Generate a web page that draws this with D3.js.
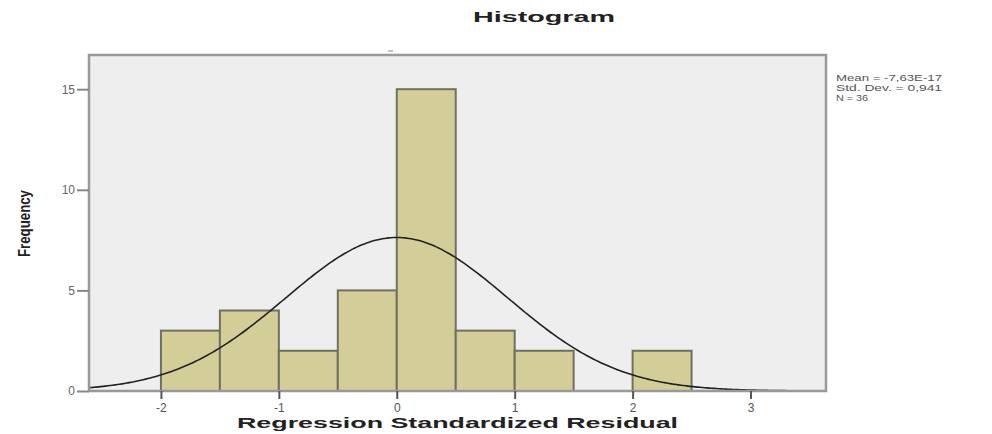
<!DOCTYPE html>
<html><head><meta charset="utf-8">
<script src="https://cdn.jsdelivr.net/npm/d3@7"></script>
<style>body{margin:0;background:#fff;}svg{display:block;font-family:"Liberation Sans",Arial,sans-serif;}</style>
</head><body>
<svg id="c" width="992" height="434"></svg>
<script>
const binStarts = [-2, -1.5, -1, -0.5, 0, 0.5, 1, 1.5, 2];
const binCounts = [3, 4, 2, 5, 15, 3, 2, 0, 2];
const binWidth = 0.5;
const xTicks = [-2, -1, 0, 1, 2, 3];
const yTicks = [0, 5, 10, 15];
const statLines = ["Mean = -7,63E-17", "Std. Dev. = 0,941", "N = 36"];
const meanVal = 0, sdVal = 0.941, nVal = 36;

const svg = d3.select("#c");
const L = 89, R = 826, T = 55, B = 391;
const x = d3.scaleLinear().domain([-2.61, 3.64]).range([L, R]);
const y = d3.scaleLinear().domain([0, 16.7]).range([B, T]);

svg.append("rect").attr("x", L).attr("y", T).attr("width", R - L).attr("height", B - T)
  .attr("fill", "#eeeeee");

svg.append("g").selectAll("rect").data(binStarts.map((s, i) => ({s, c: binCounts[i]})).filter(d => d.c > 0))
  .join("rect")
  .attr("x", d => x(d.s)).attr("width", d => x(d.s + binWidth) - x(d.s))
  .attr("y", d => y(d.c)).attr("height", d => y(0) - y(d.c))
  .attr("fill", "#d3ce98").attr("stroke", "#707060").attr("stroke-width", 2);

// fitted normal curve from the displayed statistics
const xs = d3.range(-2.61, 3.6401, 0.02);
const curve = xs.map(v => [v, nVal * binWidth / (sdVal * Math.sqrt(2 * Math.PI)) * Math.exp(-0.5 * ((v - meanVal) / sdVal) ** 2)]);
svg.append("path").datum(curve)
  .attr("d", d3.line().x(d => x(d[0])).y(d => y(d[1])).curve(d3.curveBasis))
  .attr("fill", "none").attr("stroke", "#222").attr("stroke-width", 1.6);

svg.append("rect").attr("x", L).attr("y", T).attr("width", R - L).attr("height", B - T)
  .attr("fill", "none").attr("stroke", "#999").attr("stroke-width", 2.5);

const xa = svg.append("g").attr("transform", `translate(0,${B})`)
  .call(d3.axisBottom(x).tickValues(xTicks).tickSize(8).tickPadding(4).tickFormat(d => String(d)));
xa.select(".domain").remove();
xa.selectAll("line").attr("stroke", "#555").attr("stroke-width", 2);
xa.selectAll("text").attr("fill", "#555").attr("font-size", 12).attr("font-family", "Liberation Sans, Arial");

const ya = svg.append("g").attr("transform", `translate(${L},0)`)
  .call(d3.axisLeft(y).tickValues(yTicks).tickSize(12).tickPadding(2).tickFormat(d => String(d)));
ya.select(".domain").remove();
ya.selectAll("line").attr("stroke", "#888").attr("stroke-width", 2);
ya.selectAll("text").attr("fill", "#666").attr("font-size", 12).attr("font-family", "Liberation Sans, Arial");

svg.append("text").attr("x", 473).attr("y", 22).attr("font-weight", "bold").attr("font-size", 15)
  .attr("textLength", 142).attr("lengthAdjust", "spacingAndGlyphs").attr("fill", "#222").text("Histogram");
svg.append("line").attr("x1", 388).attr("x2", 393).attr("y1", 51).attr("y2", 51).attr("stroke", "#888");

svg.append("text").attr("x", 237).attr("y", 428).attr("font-weight", "bold").attr("font-size", 15)
  .attr("textLength", 441).attr("lengthAdjust", "spacingAndGlyphs").attr("fill", "#222")
  .text("Regression Standardized Residual");

svg.append("text").attr("transform", "translate(30,257) rotate(-90)").attr("font-weight", "bold").attr("font-size", 17)
  .attr("textLength", 67).attr("lengthAdjust", "spacingAndGlyphs").attr("fill", "#222").text("Frequency");

svg.append("g").selectAll("text").data(statLines).join("text")
  .attr("x", 836).attr("y", (d, i) => 81 + i * 10).attr("font-size", 8.5)
  .attr("textLength", (d, i) => [106, 106, 32][i]).attr("lengthAdjust", "spacingAndGlyphs")
  .attr("fill", "#555").text(d => d);
</script>
</body></html>
